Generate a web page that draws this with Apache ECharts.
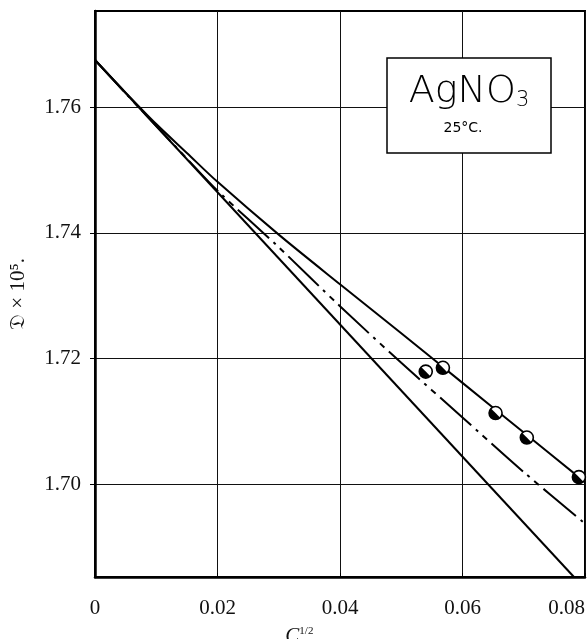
<!DOCTYPE html>
<html>
<head>
<meta charset="utf-8">
<script src="https://cdn.jsdelivr.net/npm/echarts@6/dist/echarts.min.js"></script>
<style>html,body{margin:0;padding:0;background:#fff;}#c{width:588px;height:639px;}</style>
</head>
<body>
<div id="c"></div>
<script>
// ---- data ----
const xTicks = [0, 0.02, 0.04, 0.06, 0.08];
const yTicks = [1.70, 1.72, 1.74, 1.76];

// upper solid curve (through the experimental points)
const upperX = [0, 0.005, 0.01, 0.015, 0.02, 0.03, 0.04, 0.05, 0.06, 0.07, 0.08];
const upperY = [1.7675, 1.7623, 1.7573, 1.7527, 1.7481, 1.7397, 1.7318, 1.7240, 1.7161, 1.7082, 1.7003];

// dash-dot curve
const midX = [0, 0.005, 0.01, 0.015, 0.02, 0.03, 0.04, 0.05, 0.06, 0.07, 0.08];
const midY = [1.7675, 1.7622, 1.7570, 1.7518, 1.7467, 1.7377, 1.7283, 1.7193, 1.7106, 1.7019, 1.6937];

// lower straight (limiting) line
const lowX = [0, 0.0782];
const lowY = [1.7675, 1.6852];

// experimental points
const measX = [0.0540, 0.0568, 0.0654, 0.0705, 0.0790];
const measY = [1.7179, 1.7185, 1.7113, 1.7074, 1.7011];

const zip = (a, b) => a.map((v, i) => [v, b[i]]);

const chart = echarts.init(document.getElementById('c'), null, {renderer: 'canvas'});
const serif = 'Liberation Serif';

chart.setOption({
  animation: false,
  backgroundColor: '#fff',
  grid: {left: 92, top: 11, right: 1, bottom: 62, show: true, borderColor: '#000', borderWidth: 2, backgroundColor: 'transparent'},
  xAxis: {
    type: 'value', min: 0, max: 0.08, interval: 0.02,
    axisLine: {show: true, onZero: false, lineStyle: {color: '#000', width: 2.5}},
    axisTick: {show: true, length: 4, inside: true, lineStyle: {color: '#000'}},
    axisLabel: {
      fontFamily: serif, fontSize: 21, color: '#111', margin: 21,
      alignMaxLabel: 'right',
      formatter: v => v === 0 ? '0' : v.toFixed(2)
    },
    splitLine: {show: true, lineStyle: {color: '#111', width: 1}}
  },
  yAxis: {
    type: 'value', min: 1.6852, max: 1.7753,
    name: '𝔇 × 10⁵.', nameLocation: 'middle', nameRotate: 90, nameGap: 66,
    nameTextStyle: {fontFamily: serif, fontSize: 21, color: '#111'},
    axisLine: {show: true, onZero: false, lineStyle: {color: '#000', width: 2.5}},
    axisTick: {show: true, length: 5, customValues: yTicks, lineStyle: {color: '#000'}},
    axisLabel: {fontFamily: serif, fontSize: 21, color: '#111', margin: 14, customValues: yTicks,
      formatter: v => v.toFixed(2)},
    splitLine: {show: true, lineStyle: {color: '#111', width: 1}}
  },
  series: [
    {type: 'line', data: zip(upperX, upperY), smooth: 0.3, symbol: 'none',
      lineStyle: {color: '#000', width: 2}, z: 3},
    {type: 'line', data: zip(midX, midY), smooth: 0.3, symbol: 'none',
      lineStyle: {color: '#000', width: 2, type: [42, 6, 3, 6, 6, 6]}, z: 3},
    {type: 'line', data: zip(lowX, lowY), symbol: 'none',
      lineStyle: {color: '#000', width: 2}, z: 3},
    {type: 'custom', data: zip(measX, measY), z: 5,
      renderItem: function (params, api) {
        const p = api.coord([api.value(0), api.value(1)]);
        const r = 6.5;
        return {type: 'group', children: [
          {type: 'circle', shape: {cx: p[0], cy: p[1], r: r}, style: {fill: '#fff', stroke: '#000', lineWidth: 1.6}},
          {type: 'sector', shape: {cx: p[0], cy: p[1], r0: 0, r: r, startAngle: Math.PI / 4, endAngle: Math.PI * 5 / 4}, style: {fill: '#000'}}
        ]};
      }
    }
  ],
  graphic: [
    {type: 'rect', shape: {x: 387, y: 58, width: 164, height: 95}, style: {fill: '#fff', stroke: '#000', lineWidth: 1.5}, z: 10},
    {type: 'text', x: 469, y: 92, z: 11, style: {
      text: '{a|AgNO}{s|3}', align: 'center', verticalAlign: 'middle',
      rich: {
        a: {fontFamily: 'DejaVu Sans', fontWeight: 200, fontSize: 38, fill: '#000'},
        s: {fontFamily: 'DejaVu Sans', fontWeight: 200, fontSize: 21, fill: '#000', verticalAlign: 'bottom', padding: [16, 0, 0, 0]}
      }}},
    {type: 'text', x: 463, y: 128, z: 11, style: {
      text: '25°C.', align: 'center', verticalAlign: 'middle',
      fontFamily: 'DejaVu Sans', fontWeight: 'normal', fontSize: 14, fill: '#000'}},
    {type: 'text', x: 302, y: 626, z: 11, style: {
      text: '{c|C}{s|1/2}{c|.}', align: 'center', verticalAlign: 'top',
      rich: {
        c: {fontFamily: serif, fontStyle: 'italic', fontSize: 21, fill: '#111'},
        s: {fontFamily: serif, fontSize: 11, fill: '#111', verticalAlign: 'top'}
      }}}
  ]
});
</script>
</body>
</html>
